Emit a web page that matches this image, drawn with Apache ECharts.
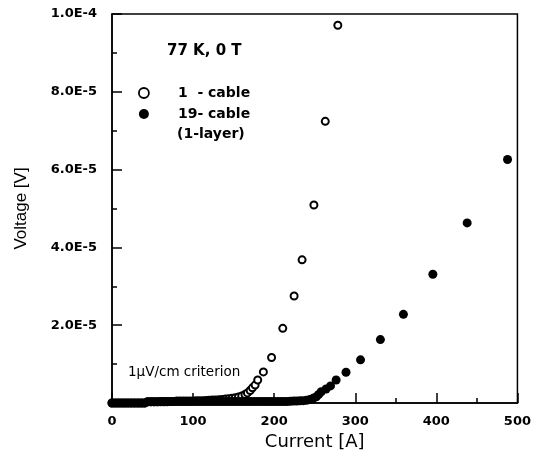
<!DOCTYPE html>
<html>
<head>
<meta charset="utf-8">
<script src="https://cdn.jsdelivr.net/npm/echarts@6/dist/echarts.min.js"></script>
<style>html,body{margin:0;padding:0;background:#fff;}#c{width:534px;height:462px;}</style>
</head>
<body>
<div id="c"></div>
<script>
// 1-cable (open circles): current [A] and voltage [µV]
var cable1Current = [0,4,8,12,16,20,24,28,32,36,40,44,48,52,56,60,64,68,72,76,80,84,88,92,96,100,104,108,112,116,120,124,128,132,136,140,144,148,152,156,160,164,167,170.4,173.2,176.5,179.7,186.7,196.8,210.6,224.6,234.4,249,263,278.5];
var cable1VoltageUV = [0,0,0,0,0,0,0,0,0,0,0,0.3,0.3,0.3,0.3,0.4,0.4,0.4,0.4,0.4,0.5,0.5,0.5,0.5,0.5,0.5,0.55,0.6,0.6,0.65,0.7,0.75,0.8,0.85,0.9,1.0,1.1,1.2,1.35,1.55,1.8,2.2,2.6,3.2,3.9,4.6,5.9,8.0,11.7,19.2,27.5,36.8,50.9,72.4,97.1];
// 19-cable 1-layer (filled circles)
var cable19Current = [0,4,8,12,16,20,24,28,32,36,40,44,48,52,56,60,64,68,72,76,80,84,88,92,96,100,104,108,112,116,120,124,128,132,136,140,144,148,152,156,160,164,168,172,176,180,184,188,192,196,200,204,208,212,216,220,224,228,232,236,240,244,248,252,255,258,264,269.5,276.4,288.6,306.5,331,359.4,395.7,438,487.8];
var cable19VoltageUV = [0,0,0,0,0,0,0,0,0,0,0,0.3,0.3,0.3,0.3,0.3,0.3,0.3,0.4,0.4,0.4,0.4,0.4,0.4,0.4,0.4,0.4,0.4,0.4,0.4,0.4,0.4,0.4,0.4,0.4,0.4,0.4,0.4,0.4,0.4,0.4,0.4,0.4,0.4,0.4,0.4,0.4,0.4,0.4,0.4,0.4,0.4,0.4,0.4,0.4,0.45,0.5,0.5,0.55,0.6,0.7,0.9,1.2,1.6,2.2,2.9,3.6,4.4,5.9,7.9,11.1,16.3,22.8,33.1,46.3,62.6];
var seriesNames = ['1  - cable', '19- cable'];
var xTicks = {min: 0, max: 500, interval: 100};
var yTicks = {min: 0, max: 1e-4, interval: 2e-5};

function pairs(xs, ys) {
  return xs.map(function (x, i) { return [x, ys[i] * 1e-6]; });
}

var WIDE = 'DejaVu Sans, Verdana, sans-serif';
var NARROW = 'Liberation Sans, Arial, sans-serif';
var chart = echarts.init(document.getElementById('c'), null, {renderer: 'canvas'});
chart.setOption({
  animation: false,
  backgroundColor: '#fff',
  grid: {left: 112, right: 13, top: 14, bottom: 59, show: true, borderColor: '#000', borderWidth: 1.5, backgroundColor: 'transparent'},
  xAxis: {
    type: 'value', min: xTicks.min, max: xTicks.max, interval: xTicks.interval,
    name: 'Current [A]', nameLocation: 'middle', nameGap: 30,
    nameTextStyle: {fontFamily: WIDE, fontSize: 18, color: '#000'},
    axisLine: {show: true, lineStyle: {color: '#000', width: 1.5}},
    axisTick: {show: true, inside: true, length: 10, lineStyle: {color: '#000', width: 1.5}},
    minorTick: {show: true, splitNumber: 2, length: 5, lineStyle: {color: '#000', width: 1.5}},
    splitLine: {show: false},
    axisLabel: {margin: 12, fontFamily: WIDE, fontSize: 13, fontWeight: 'bold', color: '#000'}
  },
  yAxis: {
    type: 'value', min: yTicks.min, max: yTicks.max, interval: yTicks.interval,
    name: 'Voltage [V]', nameLocation: 'middle', nameGap: 82,
    nameTextStyle: {fontFamily: NARROW, fontSize: 17, color: '#000'},
    axisLine: {show: true, lineStyle: {color: '#000', width: 1.5}},
    axisTick: {show: true, inside: true, length: 10, lineStyle: {color: '#000', width: 1.5}},
    minorTick: {show: true, splitNumber: 2, length: 5, lineStyle: {color: '#000', width: 1.5}},
    splitLine: {show: false},
    axisLabel: {
      margin: 15, fontFamily: WIDE, fontSize: 13, fontWeight: 'bold', color: '#000',
      formatter: function (v) { return v === 0 ? '' : v.toExponential(1).toUpperCase().replace('+', ''); }
    }
  },
  legend: {
    orient: 'vertical', left: 138, top: 85, padding: 0, itemGap: 5, itemWidth: 58, itemHeight: 10,
    icon: 'circle', symbolKeepAspect: true,
    textStyle: {fontFamily: WIDE, fontSize: 14, fontWeight: 'bold', color: '#000', lineHeight: 16},
    data: [
      {name: seriesNames[0], itemStyle: {color: '#fff', borderColor: '#000', borderWidth: 1.8}},
      {name: seriesNames[1], itemStyle: {color: '#000', borderWidth: 0}}
    ]
  },
  graphic: [
    {type: 'text', left: 167, top: 44, style: {text: '77 K, 0 T', font: 'bold 15px ' + WIDE, fill: '#000'}},
    {type: 'text', left: 177, top: 127, style: {text: '(1-layer)', font: 'bold 14px ' + WIDE, fill: '#000'}},
    {type: 'text', left: 128, top: 365, style: {text: '1µV/cm criterion', font: '13.5px ' + WIDE, fill: '#000'}}
  ],
  series: [
    {
      name: seriesNames[0], type: 'scatter', data: pairs(cable1Current, cable1VoltageUV),
      symbol: 'circle', symbolSize: 7,
      itemStyle: {color: '#fff', borderColor: '#000', borderWidth: 2, opacity: 1}
    },
    {
      name: seriesNames[1], type: 'scatter', data: pairs(cable19Current, cable19VoltageUV),
      symbol: 'circle', symbolSize: 9,
      itemStyle: {color: '#000', opacity: 1}
    }
  ]
});
</script>
</body>
</html>
